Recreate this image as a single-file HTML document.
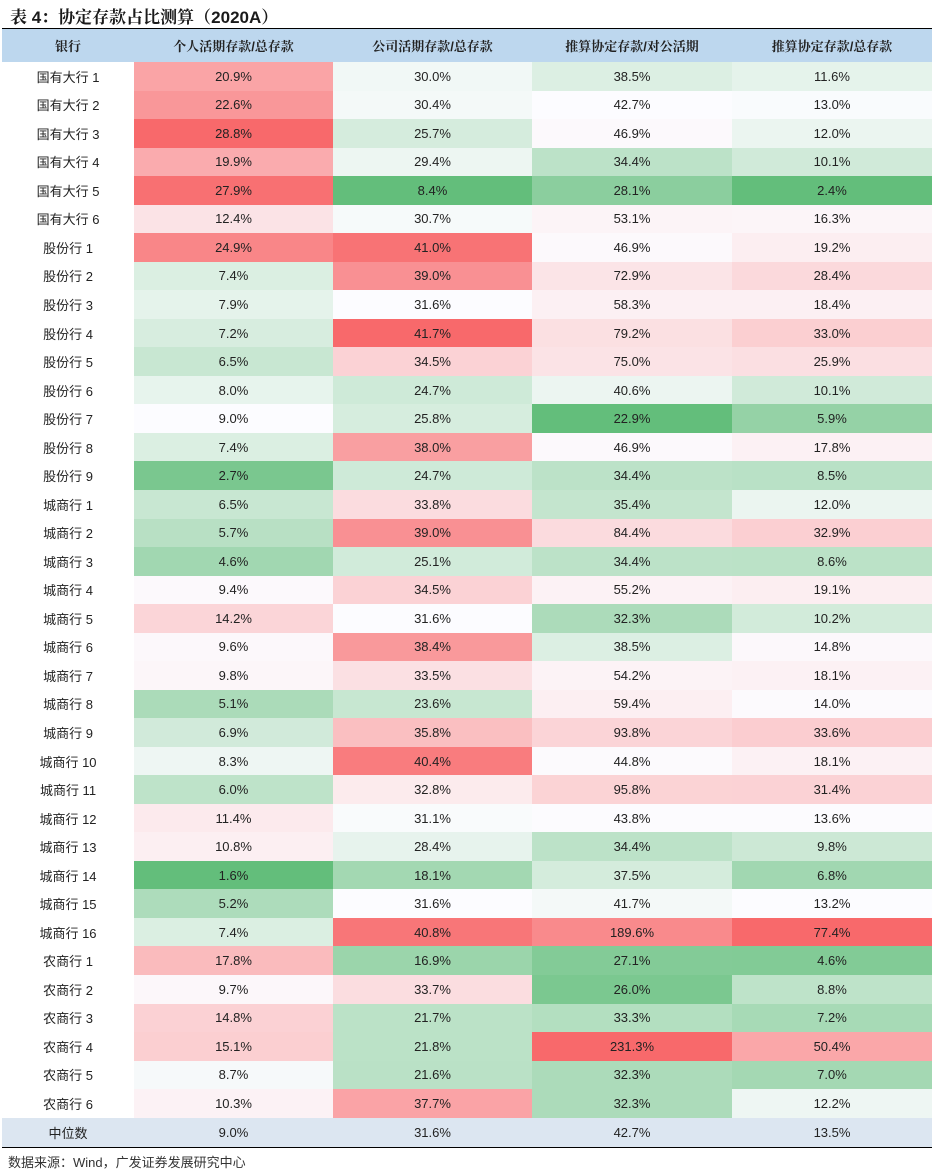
<!DOCTYPE html>
<html><head><meta charset="utf-8">
<style>
body{margin:0;width:936px;height:1176px;background:#fff;font-family:"Liberation Sans","Noto Sans CJK SC",sans-serif;position:relative;overflow:hidden}
#title{position:absolute;left:10px;top:3px;font-size:17px;font-weight:bold;color:#1a1a1a;font-family:"Liberation Sans","Noto Serif CJK SC",serif}
#tbl{position:absolute;left:2px;top:28px;width:930px;border-top:1.5px solid #000;border-bottom:1.5px solid #000}
.row{display:flex;height:28.54px}
.c{display:flex;align-items:center;justify-content:center;font-size:13px;color:#222}
.hd{background:#BDD7EE;height:33px}
.hd .c{font-weight:bold;font-size:13px;font-family:"Liberation Sans","Noto Serif CJK SC",serif}
#src{position:absolute;left:8px;top:1152px;font-size:13px;color:#333}
</style></head><body>
<div id="title">表 4：协定存款占比测算（2020A）</div>
<div id="tbl"></div>
<div id="src">数据来源：Wind，广发证券发展研究中心</div>
<script>
const headers=["银行","个人活期存款/总存款","公司活期存款/总存款","推算协定存款/对公活期","推算协定存款/总存款"];
const banks=["国有大行 1","国有大行 2","国有大行 3","国有大行 4","国有大行 5","国有大行 6","股份行 1","股份行 2","股份行 3","股份行 4","股份行 5","股份行 6","股份行 7","股份行 8","股份行 9","城商行 1","城商行 2","城商行 3","城商行 4","城商行 5","城商行 6","城商行 7","城商行 8","城商行 9","城商行 10","城商行 11","城商行 12","城商行 13","城商行 14","城商行 15","城商行 16","农商行 1","农商行 2","农商行 3","农商行 4","农商行 5","农商行 6"];
const col1=[20.9,22.6,28.8,19.9,27.9,12.4,24.9,7.4,7.9,7.2,6.5,8.0,9.0,7.4,2.7,6.5,5.7,4.6,9.4,14.2,9.6,9.8,5.1,6.9,8.3,6.0,11.4,10.8,1.6,5.2,7.4,17.8,9.7,14.8,15.1,8.7,10.3];
const col2=[30.0,30.4,25.7,29.4,8.4,30.7,41.0,39.0,31.6,41.7,34.5,24.7,25.8,38.0,24.7,33.8,39.0,25.1,34.5,31.6,38.4,33.5,23.6,35.8,40.4,32.8,31.1,28.4,18.1,31.6,40.8,16.9,33.7,21.7,21.8,21.6,37.7];
const col3=[38.5,42.7,46.9,34.4,28.1,53.1,46.9,72.9,58.3,79.2,75.0,40.6,22.9,46.9,34.4,35.4,84.4,34.4,55.2,32.3,38.5,54.2,59.4,93.8,44.8,95.8,43.8,34.4,37.5,41.7,189.6,27.1,26.0,33.3,231.3,32.3,32.3];
const col4=[11.6,13.0,12.0,10.1,2.4,16.3,19.2,28.4,18.4,33.0,25.9,10.1,5.9,17.8,8.5,12.0,32.9,8.6,19.1,10.2,14.8,18.1,14.0,33.6,18.1,31.4,13.6,9.8,6.8,13.2,77.4,4.6,8.8,7.2,50.4,7.0,12.2];
const medians=[9.0,31.6,42.7,13.5];
const cols=[col1,col2,col3,col4];
const widths=[132,199,199,200,200];
const G=[99,190,123],W=[252,252,255],R=[248,105,107];
function pct(a,p){const s=[...a].sort((x,y)=>x-y);const i=(s.length-1)*p,l=Math.floor(i);return s[l]+(s[Math.ceil(i)]-s[l])*(i-l);}
function color(v,a){const mn=Math.min(...a),mx=Math.max(...a),md=pct(a,0.5);let t,A,B;
 if(v<=md){t=(v-mn)/(md-mn||1);A=G;B=W}else{t=(v-md)/(mx-md||1);A=W;B=R}
 return `rgb(${A.map((x,i)=>Math.round(x+(B[i]-x)*t)).join(',')})`;}
const tbl=document.getElementById('tbl');
const hr=document.createElement('div');hr.className='row hd';


headers.forEach((h,i)=>{const c=document.createElement('div');c.className='c';c.style.width=widths[i]+'px';c.textContent=h;


hr.appendChild(c);});
tbl.appendChild(hr);
banks.forEach((b,r)=>{const row=document.createElement('div');row.className='row';


const n=document.createElement('div');n.className='c';n.style.width=widths[0]+'px';n.textContent=b;


row.appendChild(n);
cols.forEach((a,k)=>{const c=document.createElement('div');c.className='c';c.style.width=widths[k+1]+'px';
c.style.background=color(a[r],a);c.textContent=a[r].toFixed(1)+'%';


row.appendChild(c);});
tbl.appendChild(row);});
const mr=document.createElement('div');mr.className='row';mr.style.background='#DCE6F1';mr.style.height='29px';


const ml=document.createElement('div');ml.className='c';ml.style.width=widths[0]+'px';ml.textContent='中位数';


mr.appendChild(ml);
medians.forEach((m,k)=>{const c=document.createElement('div');c.className='c';c.style.width=widths[k+1]+'px';c.textContent=m.toFixed(1)+'%';


mr.appendChild(c);});
tbl.appendChild(mr);
</script>
</body></html>
